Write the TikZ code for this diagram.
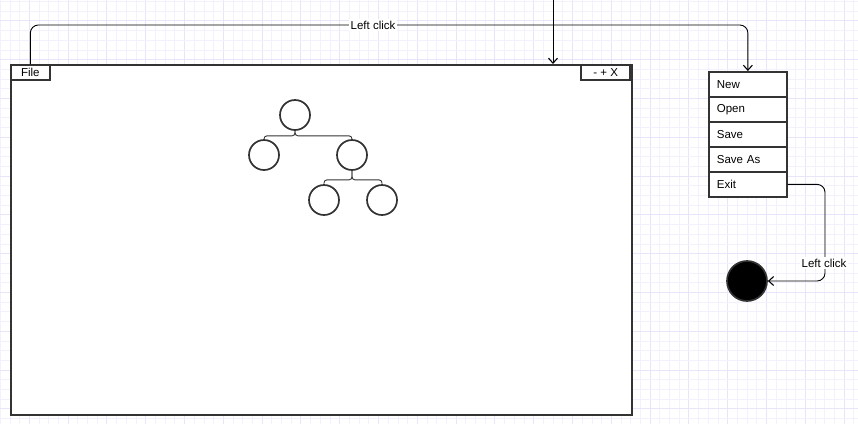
\documentclass[tikz,border=0pt]{standalone}
\usepackage{fontspec}
\setmainfont{Liberation Sans}
\usetikzlibrary{arrows.meta,calc}
\definecolor{gminor}{RGB}{243,241,253}
\definecolor{gmajor}{RGB}{232,229,250}
\definecolor{edge}{RGB}{51,51,51}
\begin{document}
\begin{tikzpicture}[x=1pt,y=-1pt,
  box/.style={draw=edge,line width=1.7pt,fill=white,inner sep=0pt},
  menuitem/.style={box,anchor=north west,minimum height=25pt,text width=62pt,inner xsep=8pt,align=left},
  tnode/.style={circle,draw=edge,line width=1.7pt,fill=white,minimum size=30pt,inner sep=0pt},
  tline/.style={draw=edge,line width=0.9pt,rounded corners=3pt},
  conn/.style={draw=black,line width=0.9pt,rounded corners=8pt,-{Straight Barb[length=5pt,width=9pt,line width=1.1pt]}},
  lbl/.style={fill=white,inner xsep=2pt,inner ysep=1.5pt},
  every node/.append style={font=\fontsize{11.5}{13}\selectfont}]
\useasboundingbox (0,0) rectangle (858,424);
\fill[white] (0,0) rectangle (858,424);
\foreach \i in {0,...,88}{
  \pgfmathtruncatemacro\m{mod(\i,4)}
  \ifnum\m=3
    \draw[gmajor,line width=0.7pt] ({0.1+9.7*\i},0) -- ++(0,424);
  \else
    \draw[gminor,line width=0.6pt] ({0.1+9.7*\i},0) -- ++(0,424);
  \fi
}
\foreach \i in {0,...,44}{
  \pgfmathtruncatemacro\m{mod(\i,4)}
  \ifnum\m=2
    \draw[gmajor,line width=0.7pt] (0,{1.3+9.7*\i}) -- ++(858,0);
  \else
    \draw[gminor,line width=0.6pt] (0,{1.3+9.7*\i}) -- ++(858,0);
  \fi
}
% main window
\node[box,anchor=north west,minimum width=621pt,minimum height=350pt] (win) at (10,64) {};
\node[box,anchor=north west,minimum width=39pt,minimum height=15pt] (file) at (10,64) {File};
\node[box,anchor=north east,minimum width=49pt,minimum height=15pt] (ctrl) at (631,64) {- + X};
% tree
\node[tnode] (root) at (295,115) {};
\node[tnode] (lc) at (264,155) {};
\node[tnode] (rc) at (352,155) {};
\node[tnode] (g1) at (324,200) {};
\node[tnode] (g2) at (382,200) {};
\draw[tline] (root.south) -- ++(0,5) -| (lc.north);
\draw[tline] (root.south) -- ++(0,5) -| (rc.north);
\draw[tline] (rc.south) -- ++(0,9) -| (g1.north);
\draw[tline] (rc.south) -- ++(0,9) -| (g2.north);
% menu
\node[menuitem] (new) at (708,71) {New};
\node[menuitem] (open) at (708,96) {Open};
\node[menuitem] (save) at (708,121) {Save};
\node[menuitem] (saveas) at (708,146) {Save As};
\node[menuitem] (exit) at (708,171) {Exit};
% end state
\node[circle,draw=edge,line width=1.7pt,fill=black,minimum size=40pt,inner sep=0pt] (endc) at (747,281) {};
% connectors
\coordinate (topin) at (553,0);
\draw[conn] (topin) -- (topin |- win.north);
\draw[conn] (file.north) -- (file.north |- 0,25) -- (new.north |- 0,25) -- (new.north);
\node[lbl] (lab1) at (373,25) {Left click};
\coordinate (bend) at (825,281);
\draw[conn] (exit.east) -| (bend) -- (endc.east);
\node[lbl] (lab2) at (824,263) {Left click};
\end{tikzpicture}
\end{document}
